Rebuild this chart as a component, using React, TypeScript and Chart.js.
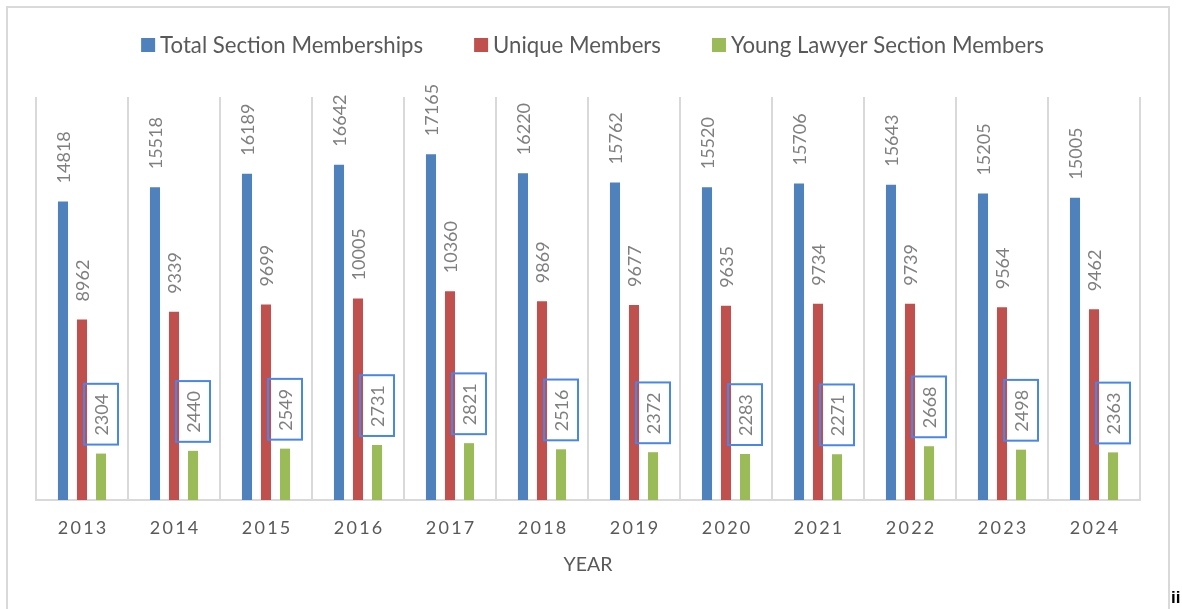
import React, { useEffect, useRef } from 'react';
import { Chart, registerables } from 'chart.js';

Chart.register(...registerables);

const years = ['2013', '2014', '2015', '2016', '2017', '2018', '2019', '2020', '2021', '2022', '2023', '2024'];
const totalMemberships = [14818, 15518, 16189, 16642, 17165, 16220, 15762, 15520, 15706, 15643, 15205, 15005];
const uniqueMembers = [8962, 9339, 9699, 10005, 10360, 9869, 9677, 9635, 9734, 9739, 9564, 9462];
const youngLawyerMembers = [2304, 2440, 2549, 2731, 2821, 2516, 2372, 2283, 2271, 2668, 2498, 2363];
const seriesNames = ['Total Section Memberships', 'Unique Members', 'Young Lawyer Section Members'];
const seriesColors = ['#4F81BD', '#C0504D', '#9BBB59'];
const axisTitle = 'YEAR';

const FONT = 'Lato, "Liberation Sans", sans-serif';

const valueLabelPlugin = {
  id: 'valueLabels',
  afterDatasetsDraw(chart: any) {
    const ctx = chart.ctx;
    ctx.save();
    ctx.font = `18px ${FONT}`;
    chart.data.datasets.forEach((ds: any, di: number) => {
      const meta = chart.getDatasetMeta(di);
      meta.data.forEach((bar: any, i: number) => {
        const text = String(ds.data[i]);
        const w = ctx.measureText(text).width;
        ctx.save();
        ctx.translate(bar.x, bar.y - 18);
        ctx.rotate(-Math.PI / 2);
        if (di === 2) {
          ctx.strokeStyle = '#4A86E8';
          ctx.lineWidth = 2;
          ctx.strokeRect(-9, -17, w + 19, 34);
        }
        ctx.fillStyle = '#7F7F7F';
        ctx.textAlign = 'left';
        ctx.textBaseline = 'middle';
        ctx.fillText(text, 0, 1);
        ctx.restore();
      });
    });
    ctx.restore();
  },
};

const legendPlugin = {
  id: 'customLegend',
  afterDraw(chart: any) {
    const ctx = chart.ctx;
    ctx.save();
    ctx.font = `22.2px ${FONT}`;
    const box = 14;
    const gap = 5;
    const itemGap = 51;
    const items = chart.data.datasets.map((ds: any) => ({
      text: ds.label,
      color: ds.backgroundColor,
      w: ctx.measureText(ds.label).width,
    }));
    const total = items.reduce((s: number, it: any) => s + box + gap + it.w, 0) + itemGap * (items.length - 1);
    let x = 592.5 - total / 2;
    const cy = 45;
    items.forEach((it: any) => {
      ctx.fillStyle = it.color;
      ctx.fillRect(x, cy - box / 2, box, box);
      ctx.fillStyle = '#595959';
      ctx.textAlign = 'left';
      ctx.textBaseline = 'middle';
      ctx.fillText(it.text, x + box + gap, cy + 1);
      x += box + gap + it.w + itemGap;
    });
    ctx.restore();
  },
};

export default function App() {
  const canvasRef = useRef<HTMLCanvasElement>(null);

  useEffect(() => {
    const canvas = canvasRef.current;
    if (!canvas) return;
    const datasetValues = [totalMemberships, uniqueMembers, youngLawyerMembers];
    const chart = new Chart(canvas, {
      type: 'bar',
      data: {
        labels: years,
        datasets: datasetValues.map((vals, i) => ({
          label: seriesNames[i],
          data: vals,
          backgroundColor: seriesColors[i],
          borderWidth: 0,
          categoryPercentage: 0.62,
          barPercentage: 0.53,
        })),
      },
      options: {
        responsive: false,
        animation: false,
        layout: { padding: { top: 97, left: 36, right: 42, bottom: 0 } },
        plugins: {
          legend: { display: false },
          tooltip: { enabled: false },
        },
        scales: {
          x: {
            grid: { display: true, color: '#D9D9D9', lineWidth: 2, drawTicks: false, offset: true },
            border: { display: true, color: '#D9D9D9', width: 2 },
            ticks: {
              color: '#595959',
              font: { family: FONT, size: 18 },
              padding: 17,
              autoSkip: false,
              maxRotation: 0,
              callback: (_v: any, index: number) => years[index].split('').join('\u2009'),
            },
            title: {
              display: true,
              text: axisTitle,
              color: '#595959',
              font: { family: FONT, size: 19.5 },
              padding: { top: 0, bottom: 33 },
            },
            afterFit: (scale: any) => {
              scale.height = 109;
            },
          },
          y: {
            display: false,
            min: 0,
            max: 20000,
          },
        },
      },
      plugins: [valueLabelPlugin, legendPlugin],
    });
    return () => chart.destroy();
  }, []);

  return (
    <div style={{ position: 'fixed', left: 0, top: 0, width: 1182, height: 609, overflow: 'hidden', background: '#FFFFFF' }}>
      <div
        style={{
          position: 'absolute',
          left: 6,
          top: 6,
          width: 1160,
          height: 640,
          border: '2px solid #D9D9D9',
        }}
      />
      <canvas ref={canvasRef} width={1182} height={609} style={{ position: 'absolute', left: 0, top: 0 }} />
      <div
        style={{
          position: 'absolute',
          left: 1171,
          top: 588,
          fontFamily: '"Liberation Sans", sans-serif',
          fontWeight: 'bold',
          fontSize: 17,
          lineHeight: '20px',
          color: '#000000',
        }}
      >
        ii
      </div>
    </div>
  );
}
